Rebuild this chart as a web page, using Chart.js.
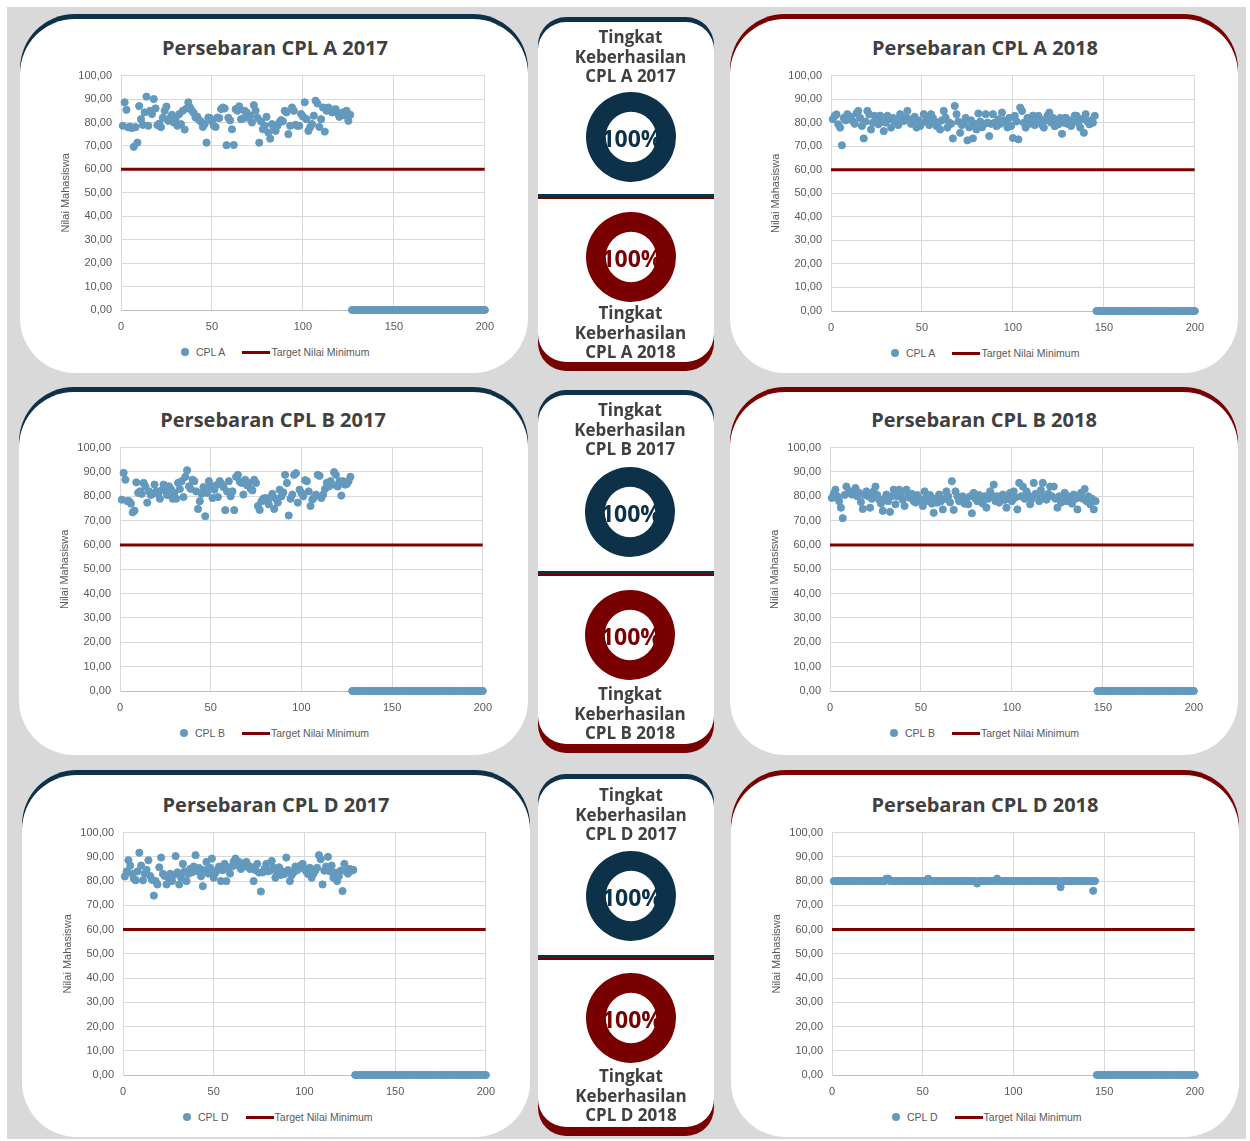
<!DOCTYPE html>
<html lang="id">
<head>
<meta charset="utf-8">
<title>Persebaran CPL</title>
<script src="https://cdn.jsdelivr.net/npm/chart.js@4.4.1/dist/chart.umd.min.js"></script>
<style>
html,body{margin:0;padding:0}
body{width:1250px;height:1141px;position:relative;overflow:hidden;background:#fff;font-family:'Open Sans',sans-serif}
#board{position:absolute;left:7px;top:7px;width:1239px;height:1132px;background:#d9d9d9}
.band,.card,.box{position:absolute}
.card{background:#fff}
.title{position:absolute;font:700 20px 'Open Sans',sans-serif;color:#404040;white-space:nowrap;transform:translate(-50%,-50%)}
.legend{position:absolute;display:flex;align-items:center;font:10.5px 'Liberation Sans',Arial,sans-serif;color:#595959;white-space:nowrap;transform:translateY(-50%)}
.legend .dot{width:8px;height:8px;border-radius:50%;background:#6499be;margin-right:7px}
.legend .ln{width:28px;height:3px;background:#7f0000;margin:0 1px 0 17px}
.caption{position:absolute;width:176px;text-align:center;font:700 17px/19.5px 'Open Sans',sans-serif;color:#404040}
.pct{position:absolute;font:700 23px 'Open Sans',sans-serif;white-space:nowrap;transform:translate(-50%,-50%)}
</style>
</head>
<body>
<div id="board"></div>
<script>
// nilai mahasiswa per baris (x = nomor baris)
const nilaiA2017 = [
  78.6,88.6,85.4,77.9,78.2,77.6,69.6,78.0,71.4,87.0,
  81.4,79.0,84.3,91.0,78.6,85.0,83.6,90.0,86.0,78.9,
  79.5,78.0,82.0,85.0,86.8,80.7,82.0,83.3,80.0,81.5,
  78.6,83.6,79.3,85.0,77.0,86.0,88.6,86.4,85.0,84.0,
  82.1,82.4,81.0,80.4,78.1,79.3,71.4,82.1,81.9,80.5,
  78.6,78.1,82.1,81.9,85.7,86.4,86.0,70.3,82.0,80.9,
  77.1,70.4,85.7,85.0,86.9,81.4,81.7,85.0,84.3,82.0,
  83.0,80.0,87.4,85.0,82.0,71.4,80.4,77.1,78.6,82.4,
  75.7,73.1,79.3,78.0,76.4,78.6,80.0,81.0,80.5,85.0,
  84.3,75.0,78.6,86.4,85.0,79.0,78.6,78.6,83.6,82.5,
  88.6,81.4,76.4,78.0,79.3,82.9,89.3,88.1,78.1,81.4,
  86.4,76.1,85.0,86.4,85.5,84.3,85.3,85.7,84.0,82.4,
  83.6,84.3,83.0,85.0,80.7,83.3
];
const nilaiA2018 = [
  81.5,82.9,83.5,79.3,77.9,70.4,82.0,81.0,83.6,81.4,
  82.5,80.7,79.5,84.0,85.0,82.0,78.6,73.3,80.5,85.0,
  83.5,77.1,80.0,82.9,81.0,79.3,83.0,80.5,76.4,80.0,
  82.9,81.5,77.9,82.0,80.5,81.4,79.0,83.6,81.0,80.7,
  82.0,85.0,81.5,79.5,80.7,82.5,77.9,81.0,78.6,80.0,
  83.6,80.5,81.4,79.0,83.6,82.0,80.5,78.6,80.0,77.1,
  81.0,85.0,82.1,77.9,80.0,79.5,73.3,87.1,83.6,80.5,
  75.7,79.0,80.0,82.0,72.5,78.0,81.0,73.3,79.5,77.1,
  83.9,80.5,78.0,79.3,83.6,80.0,74.3,79.5,83.6,80.0,
  78.5,81.4,79.5,84.3,81.0,80.0,78.0,82.0,78.6,73.5,
  82.9,80.5,72.9,86.4,85.0,80.0,77.9,82.0,79.5,81.4,
  83.0,79.0,80.7,82.9,81.5,79.0,77.9,81.0,83.0,84.3,
  80.0,82.1,78.5,81.0,79.3,82.0,75.3,80.0,82.1,79.5,
  81.0,78.6,80.5,83.0,82.9,80.0,77.9,81.5,75.7,83.6,
  80.5,79.3,81.0,80.0,82.9
];
const nilaiB2017 = [
  78.6,89.6,86.8,78.0,78.0,77.0,73.4,74.1,85.7,81.4,
  82.0,81.0,85.5,84.0,77.4,82.0,80.5,81.0,84.8,82.0,
  81.0,79.0,82.5,84.8,82.7,80.5,84.1,83.0,79.0,81.5,
  79.0,85.5,83.0,86.2,79.7,88.0,90.7,84.1,83.0,86.8,
  86.2,82.0,74.8,78.0,81.0,83.8,71.8,81.4,86.2,84.0,
  79.3,82.7,84.5,79.7,86.2,85.0,83.8,74.3,82.0,86.2,
  80.0,82.0,74.3,88.0,88.8,86.0,85.5,80.7,86.8,84.5,
  85.5,83.0,82.4,86.8,85.5,76.0,74.4,78.0,79.0,79.3,
  78.0,76.7,79.5,81.0,74.8,79.0,77.4,82.7,80.0,81.6,
  88.8,85.5,72.1,79.0,80.7,88.8,89.5,77.4,82.7,81.4,
  80.0,86.6,86.2,82.0,76.0,78.6,79.5,80.7,88.8,88.4,
  79.3,80.7,83.0,85.5,84.0,86.2,84.8,89.9,88.8,84.0,
  86.2,80.3,86.2,84.8,85.0,86.2,88.0
];
const nilaiB2018 = [
  79.3,81.0,82.7,80.0,78.0,75.3,71.0,80.5,84.0,81.4,
  82.0,80.7,81.5,83.4,80.0,81.4,77.6,74.8,80.5,82.0,
  80.0,75.3,79.0,82.0,84.0,80.5,78.6,77.0,74.0,79.0,
  80.7,78.0,73.6,80.0,82.7,76.7,80.0,82.7,81.0,78.5,
  76.0,82.7,80.0,79.3,81.0,78.0,77.4,80.5,79.3,78.0,
  76.0,82.0,79.5,78.0,80.5,77.0,73.2,79.0,77.4,80.7,
  78.0,74.6,79.0,82.0,80.0,77.5,86.2,74.4,82.0,80.0,
  78.0,79.5,80.0,77.0,79.0,76.7,80.0,73.0,81.4,79.0,
  78.0,80.5,79.3,77.0,80.0,75.3,79.0,82.0,80.5,84.8,
  78.0,80.0,77.4,79.0,80.7,78.5,75.3,79.0,81.4,78.0,
  82.0,79.5,74.6,85.5,80.0,84.0,79.0,82.0,80.5,76.7,
  79.0,85.5,81.0,80.7,78.0,82.5,85.5,80.0,78.6,81.0,
  84.0,80.0,84.0,79.0,75.3,80.0,77.4,79.5,81.4,78.0,
  80.0,78.6,77.0,80.7,79.0,74.6,79.5,81.4,79.0,83.0,
  78.0,80.0,76.7,79.0,74.6,78.0
];
const nilaiD2017 = [
  81.9,84.0,88.6,86.4,83.1,81.0,80.3,84.0,91.7,86.4,
  80.3,83.1,84.6,88.6,82.1,80.5,74.0,80.0,78.6,85.7,
  89.7,83.0,82.1,78.6,81.4,83.0,80.0,82.5,90.3,83.6,
  78.6,81.4,87.1,84.0,80.0,83.0,85.0,83.6,86.0,90.7,
  84.0,85.4,82.0,77.9,84.5,87.9,83.1,85.5,89.3,81.4,
  83.5,84.6,86.0,80.0,84.5,87.1,80.0,85.5,83.1,86.0,
  88.0,89.3,86.5,87.9,85.0,87.1,86.0,87.9,86.5,85.0,
  85.7,80.0,84.5,87.1,83.5,75.7,83.6,85.0,87.1,84.0,
  84.3,88.3,85.5,81.4,83.0,85.7,82.5,84.0,82.9,89.7,
  84.5,80.0,82.5,83.6,86.0,84.5,85.7,86.5,87.1,85.0,
  84.0,82.9,85.5,81.4,83.0,84.3,85.5,90.7,89.0,78.6,
  84.3,86.0,90.0,84.0,86.4,81.4,83.5,80.0,82.0,84.3,
  75.9,87.1,84.0,83.1,85.0,84.3,84.6
];
const nilaiD2018 = [
  80,80,80,80,80,80,80,80,80,80,
  80,80,80,80,80,80,80,80,80,80,
  80,80,80,80,80,80,80,80,80,81,
  81,80,80,80,80,80,80,80,80,80,
  80,80,80,80,80,80,80,80,80,80,
  80,80,81,80,80,80,80,80,80,80,
  80,80,80,80,80,80,80,80,80,80,
  80,80,80,80,80,80,80,80,80,79,
  80,80,80,80,80,80,80,80,80,80,
  81,80,80,80,80,80,80,80,80,80,
  80,80,80,80,80,80,80,80,80,80,
  80,80,80,80,80,80,80,80,80,80,
  80,80,80,80,80,77.5,80,80,80,80,
  80,80,80,80,80,80,80,80,80,80,
  80,80,80,76,80
];
// baris kosong sampai baris 200, terbaca sebagai 0
const kosongA2017 = [
  0,0,0,0,0,0,0,0,0,0, 0,0,0,0,0,0,0,0,0,0, 0,0,0,0,0,0,0,0,0,0,
  0,0,0,0,0,0,0,0,0,0, 0,0,0,0,0,0,0,0,0,0, 0,0,0,0,0,0,0,0,0,0,
  0,0,0,0,0,0,0,0,0,0, 0,0,0,0
];
const kosongA2018 = [
  0,0,0,0,0,0,0,0,0,0, 0,0,0,0,0,0,0,0,0,0, 0,0,0,0,0,0,0,0,0,0,
  0,0,0,0,0,0,0,0,0,0, 0,0,0,0,0,0,0,0,0,0, 0,0,0,0,0
];
const kosongB2017 = [
  0,0,0,0,0,0,0,0,0,0, 0,0,0,0,0,0,0,0,0,0, 0,0,0,0,0,0,0,0,0,0,
  0,0,0,0,0,0,0,0,0,0, 0,0,0,0,0,0,0,0,0,0, 0,0,0,0,0,0,0,0,0,0,
  0,0,0,0,0,0,0,0,0,0, 0,0,0
];
const kosongB2018 = [
  0,0,0,0,0,0,0,0,0,0, 0,0,0,0,0,0,0,0,0,0, 0,0,0,0,0,0,0,0,0,0,
  0,0,0,0,0,0,0,0,0,0, 0,0,0,0,0,0,0,0,0,0, 0,0,0,0
];
const kosongD2017 = kosongB2017;
const kosongD2018 = kosongA2018;

const targetMin = 60;
const xTicks = [0, 50, 100, 150, 200];
const yTicks = [0, 10, 20, 30, 40, 50, 60, 70, 80, 90, 100];

// tingkat keberhasilan (%): A2017, A2018, B2017, B2018, D2017, D2018
const rateLabels = ['CPL A 2017', 'CPL A 2018', 'CPL B 2017', 'CPL B 2018', 'CPL D 2017', 'CPL D 2018'];
const successRates = [100, 100, 100, 100, 100, 100];
const failRates = [0, 0, 0, 0, 0, 0];

const BLUE = '#0c3149';
const RED = '#780000';
const DOT = '#6499be';
const LINE = '#7f0000';
const TICK_FONT = {family: "'Liberation Sans', Arial, sans-serif", size: 11};

function el(cls, css, parent) {
  const d = document.createElement('div');
  d.className = cls;
  if (css) d.style.cssText = css;
  (parent || document.body).appendChild(d);
  return d;
}

// kartu putih dengan pita warna di atas / bawah
function card(x, y, w, h, r, topColor, bottomColor) {
  if (topColor) el('band', `left:${x}px;top:${y - 5}px;width:${w}px;height:${r + 20}px;background:${topColor};border-radius:${r}px ${r}px 0 0`);
  if (bottomColor) el('band', `left:${x}px;top:${y + h - r - 11}px;width:${w}px;height:${r + 20}px;background:${bottomColor};border-radius:0 0 ${r}px ${r}px`);
  el('card', `left:${x}px;top:${y}px;width:${w}px;height:${h}px;border-radius:${r}px`);
}

const cards = [
  [20, 19, 508, 354, 55, BLUE, null],
  [730, 19, 508, 354, 55, RED, null],
  [538, 22, 176, 340, 28, BLUE, RED],
  [19, 392, 509, 363, 55, BLUE, null],
  [730, 392, 508, 363, 55, RED, null],
  [538, 395, 176, 349, 28, BLUE, RED],
  [22, 775, 508, 362, 55, BLUE, null],
  [731, 775, 508, 362, 55, RED, null],
  [538, 779, 176, 348, 28, BLUE, RED],
];
cards.forEach(c => card(...c));
[194, 571, 955].forEach(y => {
  el('band', `left:538px;top:${y}px;width:176px;height:2.5px;background:${BLUE}`);
  el('band', `left:538px;top:${y + 2.5}px;width:176px;height:2.5px;background:${RED}`);
});

function fmt(v) { return v.toFixed(2).replace('.', ','); }

function scatterChart(p) {
  el('title', `left:${p.cx}px;top:${p.yT - 28}px`).textContent = p.title;

  const box = el('box', `left:${p.x0 - 70}px;top:${p.yT - 15}px;width:${p.x1 - p.x0 + 88}px;height:${p.yB - p.yT + 45}px`);
  const cv = document.createElement('canvas');
  box.appendChild(cv);

  const rows = p.values.concat(p.blank);
  const points = rows.map((v, i) => ({x: i + 1, y: v}));
  const target = [{x: xTicks[0], y: targetMin}, {x: xTicks[xTicks.length - 1], y: targetMin}];

  new Chart(cv, {
    type: 'scatter',
    data: {datasets: [
      {label: p.label, data: points, backgroundColor: DOT, borderColor: DOT, borderWidth: 1, pointRadius: 3.6, clip: false},
      {label: 'Target Nilai Minimum', data: target, showLine: true, borderColor: LINE, borderWidth: 3, pointRadius: 0}
    ]},
    options: {
      responsive: true, maintainAspectRatio: false, animation: false,
      layout: {padding: {top: 10, right: 15, left: 0, bottom: 0}},
      plugins: {legend: {display: false}, tooltip: {enabled: false}},
      scales: {
        x: {
          type: 'linear', min: xTicks[0], max: xTicks[xTicks.length - 1],
          afterBuildTicks: s => { s.ticks = xTicks.map(v => ({value: v})); },
          afterFit: s => { s.height = 30; },
          grid: {color: '#d9d9d9', drawTicks: false},
          border: {color: '#bfbfbf'},
          ticks: {padding: 10, color: '#595959', font: TICK_FONT}
        },
        y: {
          min: yTicks[0], max: yTicks[yTicks.length - 1],
          afterBuildTicks: s => { s.ticks = yTicks.map(v => ({value: v})); },
          afterFit: s => { s.width = 70; },
          grid: {color: '#d9d9d9', drawTicks: false},
          border: {color: '#d9d9d9'},
          ticks: {padding: 9, color: '#595959', font: TICK_FONT, callback: v => fmt(v)},
          title: {display: true, text: 'Nilai Mahasiswa', color: '#595959', font: TICK_FONT, padding: {top: 8, bottom: 0}}
        }
      }
    }
  });

  const lg = el('legend', `left:${p.x0 + 60}px;top:${p.yB + 42}px`);
  lg.innerHTML = `<span class="dot"></span><span>${p.label}</span><span class="ln"></span><span>Target Nilai Minimum</span>`;
}

const panels = [
  {title: 'Persebaran CPL A 2017', label: 'CPL A', values: nilaiA2017, blank: kosongA2017, cx: 275, x0: 121, x1: 486, yT: 75, yB: 310},
  {title: 'Persebaran CPL A 2018', label: 'CPL A', values: nilaiA2018, blank: kosongA2018, cx: 985, x0: 831, x1: 1196, yT: 75, yB: 311},
  {title: 'Persebaran CPL B 2017', label: 'CPL B', values: nilaiB2017, blank: kosongB2017, cx: 273, x0: 120, x1: 484, yT: 447, yB: 691},
  {title: 'Persebaran CPL B 2018', label: 'CPL B', values: nilaiB2018, blank: kosongB2018, cx: 984, x0: 830, x1: 1195, yT: 447, yB: 691},
  {title: 'Persebaran CPL D 2017', label: 'CPL D', values: nilaiD2017, blank: kosongD2017, cx: 276, x0: 123, x1: 487, yT: 832, yB: 1075},
  {title: 'Persebaran CPL D 2018', label: 'CPL D', values: nilaiD2018, blank: kosongD2018, cx: 985, x0: 832, x1: 1196, yT: 832, yB: 1075},
];
panels.forEach(scatterChart);

// donat tingkat keberhasilan
function ringChart(i, cx, cy, capTop, color) {
  const box = el('box', `left:${cx - 50}px;top:${cy - 50}px;width:100px;height:100px`);
  const cv = document.createElement('canvas');
  box.appendChild(cv);
  new Chart(cv, {
    type: 'doughnut',
    data: {labels: ['Berhasil', 'Belum'], datasets: [{data: [successRates[i], failRates[i]], backgroundColor: [color, '#d9d9d9'], borderWidth: 0}]},
    options: {
      responsive: true, maintainAspectRatio: false, animation: false,
      radius: 45, cutout: 28,
      plugins: {legend: {display: false}, tooltip: {enabled: false}}
    }
  });
  el('pct', `left:${cx + 1}px;top:${cy + 1}px;color:${color}`).textContent = successRates[i] + '%';
  el('caption', `left:${cx - 88}px;top:${capTop}px`).innerHTML = 'Tingkat<br>Keberhasilan<br>' + rateLabels[i];
}

const rings = [
  [0, 630.5, 137, 27, BLUE], [1, 630.5, 257, 303, RED],
  [2, 630, 512, 400, BLUE], [3, 630, 635, 684, RED],
  [4, 631, 896, 785, BLUE], [5, 631, 1018, 1066, RED],
];
rings.forEach(r => ringChart(...r));
</script>
</body>
</html>
